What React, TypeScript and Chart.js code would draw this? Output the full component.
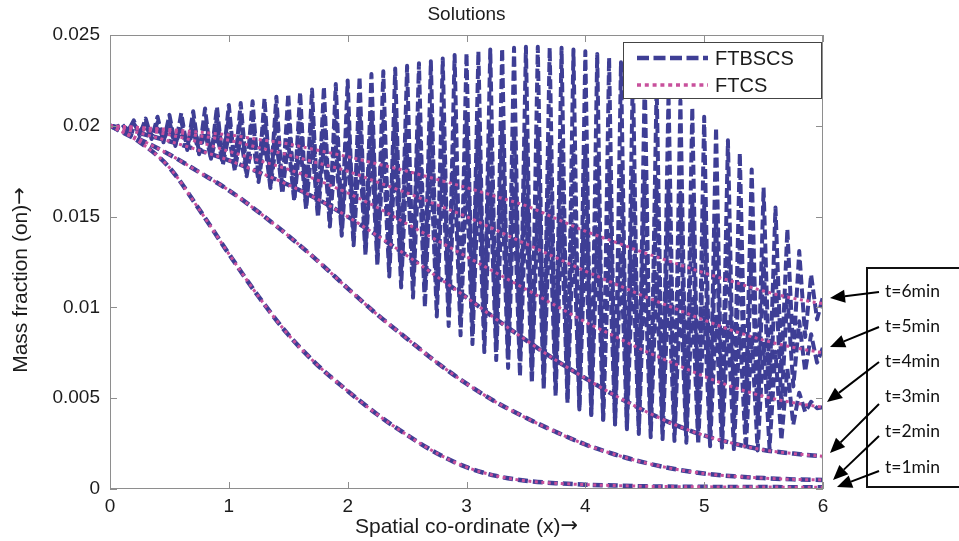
import React, { useEffect, useRef } from 'react';
import { Chart, registerables } from 'chart.js';

Chart.register(...registerables);

// ---------------- text ----------------
const chartTitle = 'Solutions';
const xAxisTitle = 'Spatial co-ordinate (x)→';
const yAxisTitle = 'Mass fraction (on)→';
const xTickLabels = ['0', '1', '2', '3', '4', '5', '6'];
const yTickLabels = ['0', '0.005', '0.01', '0.015', '0.02', '0.025'];
const legendLabels = ['FTBSCS', 'FTCS'];
const timeLabels = ['t=6min', 't=5min', 't=4min', 't=3min', 't=2min', 't=1min'];

// ---------------- smooth solutions (x every 0.25) ----------------
const xSmooth = [0, 0.25, 0.5, 0.75, 1, 1.25, 1.5, 1.75, 2, 2.25, 2.5, 2.75, 3, 3.25, 3.5, 3.75, 4, 4.25, 4.5, 4.75, 5, 5.25, 5.5, 5.75, 6];

const ftcs1 = [0.02, 0.0191, 0.0177, 0.0154, 0.01295, 0.0106, 0.0085, 0.0068, 0.0054, 0.0041, 0.00297, 0.00197, 0.0012, 0.00072, 0.00045, 0.00032, 0.00024, 0.00019, 0.00015, 0.00013, 0.00012, 0.00011, 0.00011, 0.0001, 0.0001];
const ftcs2 = [0.02, 0.01925, 0.01842, 0.01745, 0.01645, 0.01525, 0.01395, 0.01255, 0.01105, 0.0096, 0.00828, 0.00697, 0.0058, 0.00478, 0.00392, 0.00315, 0.00245, 0.0019, 0.00145, 0.0011, 0.00085, 0.0007, 0.0006, 0.00053, 0.0005];
const ftcs3 = [0.02, 0.0196, 0.01915, 0.01865, 0.0181, 0.01745, 0.01675, 0.01595, 0.015, 0.01395, 0.01285, 0.0117, 0.01055, 0.00935, 0.0082, 0.0071, 0.0061, 0.00515, 0.0043, 0.00355, 0.00295, 0.0025, 0.00215, 0.00195, 0.0018];
const ftcs4 = [0.02, 0.0198, 0.0195, 0.0191, 0.0186, 0.0181, 0.0176, 0.017, 0.0163, 0.0155, 0.0146, 0.0137, 0.0128, 0.0119, 0.011, 0.0101, 0.0092, 0.0084, 0.0076, 0.0069, 0.0062, 0.0056, 0.0051, 0.00475, 0.0045];
const ftcs5 = [0.02, 0.0199, 0.0197, 0.01945, 0.0192, 0.0188, 0.0184, 0.01795, 0.0175, 0.0169, 0.0163, 0.01565, 0.015, 0.01425, 0.0135, 0.01275, 0.012, 0.0113, 0.0106, 0.00995, 0.0093, 0.0087, 0.0082, 0.0078, 0.0075];
const ftcs6 = [0.02, 0.0199, 0.0198, 0.01965, 0.0195, 0.01925, 0.019, 0.01865, 0.0183, 0.0179, 0.0175, 0.01705, 0.0166, 0.0161, 0.0156, 0.0149, 0.0142, 0.0136, 0.013, 0.01245, 0.0119, 0.0114, 0.0109, 0.0105, 0.0102];

// FTBSCS is indistinguishable from FTCS at t = 1, 2, 3 min
const ftbscs1 = ftcs1;
const ftbscs2 = ftcs2;
const ftbscs3 = ftcs3;

// ---------------- oscillating FTBSCS solutions ----------------
// grid: peaks at x = 0, 0.1, ... 6.0 ; troughs at x = 0.05, 0.15, ... 5.95
const xPeaks = Array.from({ length: 61 }, (_, k) => Math.round(k * 10) / 100);
const xTroughs = Array.from({ length: 60 }, (_, k) => Math.round(k * 10 + 5) / 100);

const ftbscs6Peaks = [0.02, 0.0201, 0.0203, 0.0204, 0.0205, 0.0206, 0.0207, 0.0208, 0.02095, 0.02105,
  0.02115, 0.02125, 0.02135, 0.0215, 0.0216, 0.02175, 0.02185, 0.022, 0.02215, 0.0223,
  0.0225, 0.0227, 0.02285, 0.023, 0.02315, 0.0233, 0.02345, 0.02355, 0.0237, 0.0239,
  0.024, 0.0241, 0.0242, 0.02425, 0.0243, 0.02435, 0.02435, 0.0243, 0.0243, 0.0242,
  0.0241, 0.02395, 0.02375, 0.0235, 0.0231, 0.0227, 0.0223, 0.0218, 0.0214, 0.021,
  0.0205, 0.0199, 0.0192, 0.0185, 0.0176, 0.0166, 0.0155, 0.0143, 0.0131, 0.0118,
  0.0106];
const ftbscs6Troughs = [0.01991, 0.01968, 0.01945, 0.01927, 0.01909, 0.01889, 0.01867, 0.01843, 0.01818, 0.01796,
  0.0177, 0.0174, 0.01707, 0.01675, 0.01642, 0.01606, 0.01565, 0.01522, 0.01479, 0.01434,
  0.01384, 0.01334, 0.01287, 0.0124, 0.01193, 0.01144, 0.01096, 0.01047, 0.00994, 0.00943,
  0.00895, 0.00845, 0.00797, 0.00752, 0.00707, 0.00657, 0.00603, 0.0055, 0.00499, 0.00453,
  0.00413, 0.00383, 0.00357, 0.00342, 0.00334, 0.00328, 0.00329, 0.0033, 0.00326, 0.00327,
  0.0034, 0.00365, 0.00395, 0.00435, 0.0049, 0.00561, 0.00648, 0.0074, 0.00837, 0.00934];

const ftbscs5Peaks = [0.02, 0.02006, 0.02012, 0.02016, 0.02018, 0.0202, 0.02026, 0.02032, 0.02038, 0.02044,
  0.0205, 0.02052, 0.02054, 0.02056, 0.02058, 0.0206, 0.02064, 0.02068, 0.02072, 0.02076,
  0.0208, 0.02078, 0.02076, 0.02074, 0.02072, 0.0207, 0.02064, 0.02058, 0.02052, 0.02046,
  0.0204, 0.02026, 0.02012, 0.01998, 0.01984, 0.0197, 0.0195, 0.0193, 0.0191, 0.0189,
  0.0187, 0.01844, 0.01818, 0.01792, 0.01766, 0.0174, 0.01704, 0.01668, 0.01632, 0.01596,
  0.0156, 0.015, 0.0144, 0.01382, 0.01326, 0.0127, 0.01204, 0.01068, 0.00924, 0.00852,
  0.0078];
const ftbscs5Troughs = [0.01993, 0.01979, 0.01965, 0.01947, 0.01929, 0.01907, 0.01881, 0.01855, 0.01829, 0.01803,
  0.01773, 0.01739, 0.01705, 0.01671, 0.01637, 0.016, 0.0156, 0.0152, 0.0148, 0.0144,
  0.01397, 0.01351, 0.01305, 0.01259, 0.01213, 0.01167, 0.01121, 0.01075, 0.01029, 0.00983,
  0.00937, 0.00891, 0.00845, 0.00799, 0.00753, 0.0071, 0.0067, 0.0063, 0.0059, 0.0055,
  0.00515, 0.00485, 0.00455, 0.00425, 0.00395, 0.00372, 0.00356, 0.0034, 0.00324, 0.00308,
  0.00306, 0.00318, 0.0033, 0.00346, 0.00362, 0.00387, 0.00456, 0.00565, 0.00648, 0.00696];

const ftbscs4Peaks = [0.02, 0.01998, 0.01996, 0.01992, 0.01986, 0.0198, 0.01976, 0.01972, 0.01966, 0.01958,
  0.0195, 0.01942, 0.01934, 0.01926, 0.01918, 0.0191, 0.01908, 0.01906, 0.01902, 0.01896,
  0.0189, 0.01882, 0.01874, 0.01864, 0.01852, 0.0184, 0.0182, 0.018, 0.0178, 0.0176,
  0.0174, 0.01712, 0.01684, 0.01656, 0.01628, 0.016, 0.01564, 0.01528, 0.01492, 0.01456,
  0.0142, 0.01382, 0.01344, 0.01306, 0.01268, 0.0123, 0.01184, 0.01138, 0.01092, 0.01046,
  0.01, 0.0096, 0.0092, 0.00882, 0.00846, 0.0081, 0.00756, 0.00662, 0.0053, 0.0048,
  0.0045];
const ftbscs4Troughs = [0.01993, 0.01979, 0.01965, 0.01947, 0.01929, 0.01906, 0.01878, 0.0185, 0.01818, 0.01786,
  0.01754, 0.01722, 0.0169, 0.01658, 0.01626, 0.01587, 0.01541, 0.01495, 0.01445, 0.01395,
  0.01342, 0.01286, 0.0123, 0.0117, 0.0111, 0.01054, 0.01002, 0.0095, 0.00898, 0.00846,
  0.00798, 0.00754, 0.0071, 0.00666, 0.00622, 0.00582, 0.00546, 0.0051, 0.00474, 0.00438,
  0.00407, 0.00381, 0.00355, 0.00329, 0.00303, 0.00285, 0.00275, 0.00265, 0.00255, 0.00245,
  0.00236, 0.00228, 0.0022, 0.00216, 0.00212, 0.00223, 0.00269, 0.00355, 0.00425, 0.00445];

// ---------------- styles ----------------
const BLUE = '#3e3e95';
const PINK = '#c8509c';
const FRAME = '#8e8e8e';
const TEXT = '#1c1c1c';
const SANS = '"Liberation Sans", Arial, Helvetica, sans-serif';
const ARROW_FONT = '"DejaVu Sans", sans-serif';

function smoothPoints(ys: number[]) {
  return ys.map((y, i) => ({ x: xSmooth[i], y }));
}
function zigzagPoints(peaks: number[], troughs: number[]) {
  const out: { x: number; y: number }[] = [];
  for (let k = 0; k < peaks.length; k++) {
    out.push({ x: xPeaks[k], y: peaks[k] });
    if (k < troughs.length) out.push({ x: xTroughs[k], y: troughs[k] });
  }
  return out;
}

function ftcsSet(label: string, ys: number[]) {
  return {
    label,
    data: smoothPoints(ys),
    borderColor: PINK,
    borderWidth: 3,
    borderDash: [3, 3.5],
    cubicInterpolationMode: 'monotone' as const,
    pointRadius: 0,
    fill: false,
  };
}
function ftbscsSmoothSet(label: string, ys: number[]) {
  return {
    label,
    data: smoothPoints(ys),
    borderColor: BLUE,
    borderWidth: 4.5,
    borderDash: [10, 5],
    cubicInterpolationMode: 'monotone' as const,
    pointRadius: 0,
    fill: false,
  };
}
function ftbscsZigSet(label: string, peaks: number[], troughs: number[]) {
  return {
    label,
    data: zigzagPoints(peaks, troughs),
    borderColor: BLUE,
    borderWidth: 4,
    borderDash: [10, 4],
    borderJoinStyle: 'round' as const,
    tension: 0,
    pointRadius: 0,
    fill: false,
  };
}

// draws "text→" centred at (0,0) with the arrow in a font that has a full-size arrow glyph
function drawTitleWithArrow(ctx: CanvasRenderingContext2D, text: string, size: number) {
  const body = text.replace('→', '');
  const hasArrow = text.endsWith('→');
  ctx.font = `${size}px ${SANS}`;
  const wBody = ctx.measureText(body).width;
  ctx.font = `${size}px ${ARROW_FONT}`;
  const wArrow = hasArrow ? ctx.measureText('→').width : 0;
  const start = -(wBody + wArrow) / 2;
  ctx.textAlign = 'left';
  ctx.font = `${size}px ${SANS}`;
  ctx.fillText(body, start, 0);
  if (hasArrow) {
    ctx.font = `${size}px ${ARROW_FONT}`;
    ctx.fillText('→', start + wBody, 0);
  }
}

const decorPlugin = {
  id: 'decor',
  afterDraw(chart: any) {
    const ctx: CanvasRenderingContext2D = chart.ctx;
    const { left, right, top, bottom } = chart.chartArea;
    const xs = chart.scales.x;
    const ys = chart.scales.y;
    ctx.save();
    ctx.setLineDash([]);

    // axes box
    ctx.strokeStyle = FRAME;
    ctx.lineWidth = 1;
    ctx.strokeRect(left + 0.5, top + 0.5, right - left - 1, bottom - top - 1);
    // inward tick marks on all four sides
    ctx.beginPath();
    xTickLabels.forEach((l) => {
      const px = Math.round(xs.getPixelForValue(Number(l))) + 0.5;
      ctx.moveTo(px, bottom); ctx.lineTo(px, bottom - 7);
      ctx.moveTo(px, top); ctx.lineTo(px, top + 7);
    });
    yTickLabels.forEach((l) => {
      const py = Math.round(ys.getPixelForValue(Number(l))) + 0.5;
      ctx.moveTo(left, py); ctx.lineTo(left + 7, py);
      ctx.moveTo(right, py); ctx.lineTo(right - 7, py);
    });
    ctx.stroke();

    // title and axis titles
    ctx.fillStyle = TEXT;
    ctx.textAlign = 'center';
    ctx.textBaseline = 'middle';
    ctx.font = `19px ${SANS}`;
    ctx.fillText(chartTitle, (left + right) / 2, 15);
    ctx.save();
    ctx.translate((left + right) / 2, 527);
    drawTitleWithArrow(ctx, xAxisTitle, 21);
    ctx.restore();
    ctx.save();
    ctx.translate(21, 280);
    ctx.rotate(-Math.PI / 2);
    drawTitleWithArrow(ctx, yAxisTitle, 21);
    ctx.restore();

    // legend (inside the axes, top right)
    const lx = 623, ly = 42, lw = 198, lh = 56;
    ctx.fillStyle = '#ffffff';
    ctx.fillRect(lx, ly, lw, lh);
    ctx.strokeStyle = '#444';
    ctx.lineWidth = 1;
    ctx.strokeRect(lx + 0.5, ly + 0.5, lw, lh);
    ctx.lineWidth = 4.5;
    ctx.strokeStyle = BLUE;
    ctx.setLineDash([12, 4.5]);
    ctx.beginPath(); ctx.moveTo(637, 58); ctx.lineTo(708, 58); ctx.stroke();
    ctx.lineWidth = 3.5;
    ctx.strokeStyle = PINK;
    ctx.setLineDash([4, 3.8]);
    ctx.beginPath(); ctx.moveTo(637, 85); ctx.lineTo(708, 85); ctx.stroke();
    ctx.setLineDash([]);
    ctx.fillStyle = TEXT;
    ctx.textAlign = 'left';
    ctx.font = `20px ${SANS}`;
    ctx.fillText(legendLabels[0], 715, 59);
    ctx.fillText(legendLabels[1], 715, 86);

    // time annotation box with arrows
    ctx.strokeStyle = '#111';
    ctx.lineWidth = 2;
    ctx.strokeRect(867, 268, 110, 219);
    ctx.font = '17.5px Lato, "Open Sans", sans-serif';
    ctx.fillStyle = '#111';
    const labelY = [291, 326, 361, 396, 431, 467];
    timeLabels.forEach((t, i) => ctx.fillText(t, 885, labelY[i]));
    const arrows = [
      [879, 292, 830, 298],
      [879, 327, 830, 347],
      [879, 362, 827, 402],
      [879, 404, 830, 453],
      [879, 436, 833, 480],
      [879, 471, 837, 487],
    ];
    ctx.fillStyle = '#000';
    ctx.strokeStyle = '#000';
    ctx.lineWidth = 2;
    arrows.forEach(([x0, y0, x1, y1]) => {
      const dx = x1 - x0, dy = y1 - y0;
      const len = Math.hypot(dx, dy);
      const ux = dx / len, uy = dy / len;
      const head = 15, half = 6.5;
      const bx = x1 - ux * head, by = y1 - uy * head;
      ctx.beginPath(); ctx.moveTo(x0, y0); ctx.lineTo(bx, by); ctx.stroke();
      ctx.beginPath();
      ctx.moveTo(x1, y1);
      ctx.lineTo(bx - uy * half, by + ux * half);
      ctx.lineTo(bx + uy * half, by - ux * half);
      ctx.closePath();
      ctx.fill();
    });
    ctx.restore();
  },
};

export default function App() {
  const canvasRef = useRef<HTMLCanvasElement | null>(null);

  useEffect(() => {
    if (!canvasRef.current) return;
    const datasets: any[] = [
      ftcsSet('FTCS t=6', ftcs6),
      ftcsSet('FTCS t=5', ftcs5),
      ftcsSet('FTCS t=4', ftcs4),
      ftcsSet('FTCS t=3', ftcs3),
      ftcsSet('FTCS t=2', ftcs2),
      ftcsSet('FTCS t=1', ftcs1),
      ftbscsSmoothSet('FTBSCS t=1', ftbscs1),
      ftbscsSmoothSet('FTBSCS t=2', ftbscs2),
      ftbscsSmoothSet('FTBSCS t=3', ftbscs3),
      ftbscsZigSet('FTBSCS t=4', ftbscs4Peaks, ftbscs4Troughs),
      ftbscsZigSet('FTBSCS t=5', ftbscs5Peaks, ftbscs5Troughs),
      ftbscsZigSet('FTBSCS t=6', ftbscs6Peaks, ftbscs6Troughs),
    ];
    const chart = new Chart(canvasRef.current, {
      type: 'line',
      data: { datasets },
      options: {
        responsive: false,
        animation: false,
        devicePixelRatio: 1,
        layout: { padding: { left: 0, right: 136, top: 35, bottom: 0 } },
        plugins: {
          legend: { display: false },
          title: { display: false },
          tooltip: { enabled: false },
        },
        scales: {
          x: {
            type: 'linear',
            min: 0,
            max: 6,
            grid: { display: false, drawTicks: false },
            border: { display: false },
            ticks: {
              stepSize: 1,
              autoSkip: false,
              maxRotation: 0,
              padding: 6,
              color: TEXT,
              font: { size: 19, family: SANS },
              callback: (_v: any, i: number) => xTickLabels[i],
            },
            afterFit: (s: any) => { s.height = 52; },
          },
          y: {
            type: 'linear',
            min: 0,
            max: 0.025,
            grid: { display: false, drawTicks: false },
            border: { display: false },
            ticks: {
              stepSize: 0.005,
              autoSkip: false,
              padding: 10,
              color: TEXT,
              font: { size: 19, family: SANS },
              callback: (_v: any, i: number) => yTickLabels[i],
            },
            afterFit: (s: any) => { s.width = 110; },
          },
        },
      },
      plugins: [decorPlugin],
    });
    return () => chart.destroy();
  }, []);

  return (
    <div style={{ position: 'absolute', left: 0, top: 0, width: 959, height: 541, background: '#fff' }}>
      <canvas ref={canvasRef} width={959} height={541} style={{ width: 959, height: 541, display: 'block' }} />
    </div>
  );
}
